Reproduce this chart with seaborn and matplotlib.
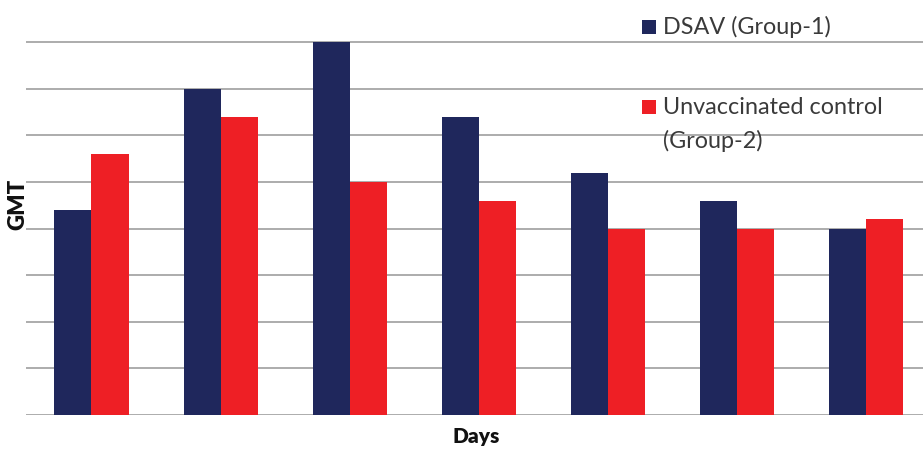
import matplotlib
matplotlib.use("Agg")
import matplotlib.pyplot as plt
from matplotlib.patches import Rectangle
import seaborn as sns
import pandas as pd

# Sampling points (not labelled on the axis) and GMT per group
days = ["S1", "S2", "S3", "S4", "S5", "S6", "S7"]
group1 = [4.4, 7.0, 8.0, 6.4, 5.2, 4.6, 4.0]
group2 = [5.6, 6.4, 5.0, 4.6, 4.0, 4.0, 4.2]
series = ["DSAV (Group-1)", "Unvaccinated control\n(Group-2)"]
colors = ["#1F275C", "#EE1F25"]

df = pd.DataFrame({
    "Days": days * 2,
    "GMT": group1 + group2,
    "Group": [series[0]] * len(days) + [series[1]] * len(days),
})

sns.set_style("white")
plt.rcParams["font.family"] = ["Lato", "DejaVu Sans"]

W, H = 923, 449
fig = plt.figure(figsize=(W / 100, H / 100), dpi=100)
ax = fig.add_axes([26 / W, 34 / H, 1 - 26 / W, 415 / H])

sns.barplot(data=df, x="Days", y="GMT", hue="Group", palette=colors,
            width=0.574, linewidth=0, saturation=1, ax=ax, legend=False)

ax.set_ylim(0, 8.901)
ax.set_xlim(-0.507, 6.441)
ax.set_yticks(range(0, 9))
ax.set_xticks([])
ax.set_yticklabels([])
ax.tick_params(left=False, bottom=False)
ax.yaxis.grid(True, color="#A6A6A6", linewidth=1.3)
ax.set_axisbelow(True)
for s in ax.spines.values():
    s.set_visible(False)
ax.set_xlabel("")
ax.set_ylabel("")

# Axis titles
fig.text(18 / W, 1 - 204 / H, "GMT", rotation=90, ha="center", va="center",
         fontsize=16, fontweight="heavy", color="#111111")
fig.text(476 / W, 1 - 436 / H, "Days", ha="center", va="center",
         fontsize=15, fontweight="heavy", color="#111111")

# Legend entries
def legend_entry(y_top, color, lines, y_center):
    fig.add_artist(Rectangle((642 / W, 1 - (y_top + 14) / H), 14 / W, 14 / H,
                             transform=fig.transFigure, facecolor=color,
                             edgecolor="none"))
    for i, line in enumerate(lines):
        fig.text(663 / W, 1 - (y_center + 34 * i) / H, line, ha="left",
                 va="center", fontsize=16.8, color="#3A3A3A")

legend_entry(19.5, colors[0], ["DSAV (Group-1)"], 27)
legend_entry(100, colors[1], ["Unvaccinated control", "(Group-2)"], 107)

fig.savefig("out.png", dpi=100)
